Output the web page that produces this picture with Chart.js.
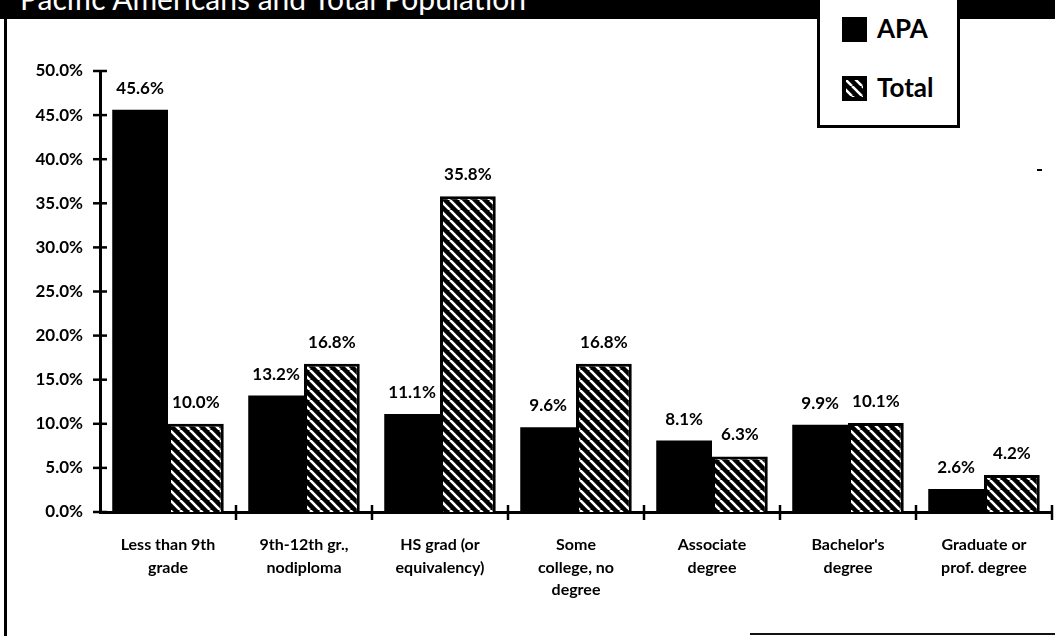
<!DOCTYPE html>
<html>
<head>
<meta charset="utf-8">
<script src="https://cdn.jsdelivr.net/npm/chart.js@4.4.1/dist/chart.umd.min.js"></script>
<style>
  html, body { margin: 0; padding: 0; background: #fff; }
  #wrap { position: relative; width: 1055px; height: 636px; overflow: hidden; font-family: Lato, sans-serif; }
  #banner { position: absolute; left: 0; top: 0; width: 1055px; height: 19px; background: #000; overflow: hidden; }
  #banner span { position: absolute; left: 20px; top: -17px; font-size: 30px; line-height: 30px; color: #fff; white-space: nowrap; }
  #leftline { position: absolute; left: 4px; top: 0; width: 3px; height: 636px; background: #000; }
  #bottomline { position: absolute; left: 750px; top: 633px; width: 305px; height: 2px; background: #111; }
  #dash { position: absolute; left: 1037px; top: 169px; width: 5px; height: 2px; background: #000; }
  #legend { position: absolute; left: 817px; top: -3px; width: 137px; height: 125px; background: #fff; border: 3px solid #000; }
  .item { position: absolute; left: 22px; height: 25px; }
  .sw { position: absolute; left: 0; top: 0; width: 25px; height: 25px; background: #000; }
  .lt { position: absolute; left: 35px; top: -5px; font-size: 26px; line-height: 32px; font-weight: bold; color: #000; white-space: nowrap; }
  canvas { position: absolute; left: 0; top: 0; }
</style>
</head>
<body>
<div id="wrap">
  <canvas id="chart" width="1055" height="636"></canvas>
  <div id="banner"><span>Pacific Americans and Total Population</span></div>
  <div id="leftline"></div>
  <div id="bottomline"></div>
  <div id="dash"></div>
  <div id="legend">
    <div class="item" style="top:17px"><div class="sw"></div><div class="lt">APA</div></div>
    <div class="item" style="top:76px"><canvas class="sw" id="hatchSw" width="25" height="25"></canvas><div class="lt">Total</div></div>
  </div>
</div>
<script>
// Data
const categories = [
  ['Less than 9th', 'grade'],
  ['9th-12th gr.,', 'nodiploma'],
  ['HS grad (or', 'equivalency)'],
  ['Some', 'college, no', 'degree'],
  ['Associate', 'degree'],
  ["Bachelor's", 'degree'],
  ['Graduate or', 'prof. degree']
]
const apaValues = [45.6, 13.2, 11.1, 9.6, 8.1, 9.9, 2.6]
const totalValues = [10.0, 16.8, 35.8, 16.8, 6.3, 10.1, 4.2]
const seriesNames = ['APA', 'Total']

// Diagonal hatch: black with white "\" stripes
function makeHatch(ctx) {
  const s = 10
  const tile = document.createElement('canvas')
  tile.width = s
  tile.height = s
  const t = tile.getContext('2d')
  t.fillStyle = '#000'
  t.fillRect(0, 0, s, s)
  t.strokeStyle = '#fff'
  t.lineWidth = 2.6
  ;[-s, 0, s].forEach(x0 => {
    t.beginPath()
    t.moveTo(x0, 0)
    t.lineTo(x0 + s, s)
    t.stroke()
  })
  return ctx.createPattern(tile, 'repeat')
}

// Legend swatch
const sw = document.getElementById('hatchSw').getContext('2d')
sw.fillStyle = makeHatch(sw)
sw.fillRect(0, 0, 25, 25)
sw.strokeStyle = '#000'
sw.lineWidth = 4
sw.strokeRect(2, 2, 21, 21)

// Tick marks that cross the axes
const crossTicks = {
  id: 'crossTicks',
  afterDraw(chart) {
    const { ctx, chartArea: a, scales: { x, y } } = chart
    ctx.save()
    ctx.strokeStyle = '#000'
    ctx.lineWidth = 2.5
    y.ticks.forEach((t, i) => {
      const py = y.getPixelForTick(i)
      ctx.beginPath()
      ctx.moveTo(a.left - 7, py)
      ctx.lineTo(a.left + 7, py)
      ctx.stroke()
    })
    const n = categories.length
    for (let i = 1; i <= n; i++) {
      const px = a.left + (a.right - a.left) * i / n
      ctx.beginPath()
      ctx.moveTo(px, a.bottom - 7)
      ctx.lineTo(px, a.bottom + 8)
      ctx.stroke()
    }
    ctx.restore()
  }
}

// Value labels above bars
const valueLabels = {
  id: 'valueLabels',
  afterDatasetsDraw(chart) {
    const { ctx } = chart
    ctx.save()
    ctx.fillStyle = '#000'
    ctx.font = 'bold 17px Lato, sans-serif'
    ctx.textAlign = 'center'
    ctx.textBaseline = 'alphabetic'
    chart.data.datasets.forEach((ds, di) => {
      chart.getDatasetMeta(di).data.forEach((bar, i) => {
        ctx.fillText(ds.data[i].toFixed(1) + '%', bar.x, bar.y - 16)
      })
    })
    ctx.restore()
  }
}

const ctx = document.getElementById('chart').getContext('2d')
new Chart(ctx, {
  type: 'bar',
  data: {
    labels: categories,
    datasets: [{
      label: seriesNames[0],
      data: apaValues,
      backgroundColor: '#000',
      borderWidth: 0,
      categoryPercentage: 0.82,
      barPercentage: 1.0
    }, {
      label: seriesNames[1],
      data: totalValues,
      backgroundColor: makeHatch(ctx),
      borderColor: '#000',
      borderWidth: 3,
      categoryPercentage: 0.82,
      barPercentage: 1.0
    }]
  },
  options: {
    responsive: false,
    animation: false,
    layout: { padding: { top: 71, right: 3, left: 0, bottom: 0 } },
    plugins: {
      legend: { display: false },
      tooltip: { enabled: false }
    },
    scales: {
      x: {
        afterFit: s => { s.height = 124 },
        grid: { display: false, drawTicks: false },
        border: { display: true, color: '#000', width: 3 },
        ticks: {
          color: '#000',
          padding: 22,
          maxRotation: 0,
          autoSkip: false,
          font: { family: 'Lato, sans-serif', size: 16, weight: 'bold', lineHeight: 1.4 }
        }
      },
      y: {
        min: 0,
        max: 50,
        afterFit: s => { s.width = 100 },
        grid: { display: false, drawTicks: false },
        border: { display: true, color: '#000', width: 3 },
        ticks: {
          stepSize: 5,
          color: '#000',
          padding: 17,
          font: { family: 'Lato, sans-serif', size: 17, weight: 'bold' },
          callback: v => v.toFixed(1) + '%'
        }
      }
    }
  },
  plugins: [crossTicks, valueLabels]
})
</script>
</body>
</html>
